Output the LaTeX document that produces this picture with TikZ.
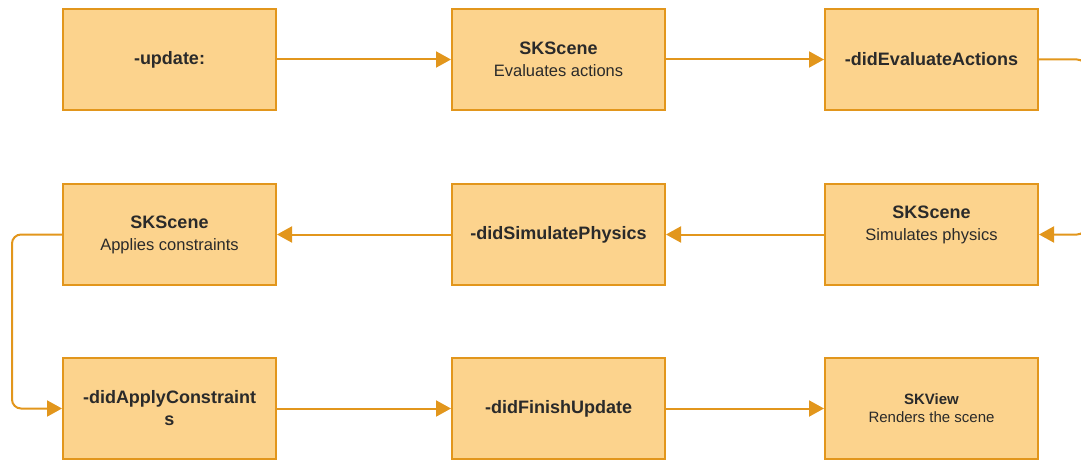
\documentclass[tikz,border=0pt]{standalone}
\usepackage{fontspec}
\setmainfont{Liberation Sans}
\usetikzlibrary{arrows.meta, positioning}
\definecolor{sfill}{HTML}{FCD38D}
\definecolor{sline}{HTML}{E2961C}
\definecolor{stext}{HTML}{2A2A2A}
\newcommand{\stagename}[1]{{\fontsize{18pt}{22pt}\selectfont\bfseries #1}}

\begin{document}
\begin{tikzpicture}[x=1pt, y=-1pt,
  stage/.style={draw=sline, fill=sfill, line width=2pt, minimum width=213pt,
    minimum height=101pt, inner sep=2pt, align=center, text=stext,
    font=\fontsize{16.5pt}{22pt}\selectfont},
  flow/.style={draw=sline, line width=2pt, -{Triangle[length=15pt, width=16pt]}},
  loopback/.style={rounded corners=9pt}]
\useasboundingbox (0,0) rectangle (1081,460);
\clip (0,0) rectangle (1081,460);
% top row
\node[stage] (update) at (169.5,59.5) {\stagename{-update:}};
\node[stage] (evaluate) at (558.5,59.5) {\stagename{SKScene}\\Evaluates actions};
\node[stage] (didevaluate) at (931.5,59.5) {\stagename{-didEvaluateActions}};
% middle row
\node[stage] (simulate) at (931.5,234.5) {};
\node[align=center, text=stext, font=\fontsize{16.5pt}{22pt}\selectfont]
  (simulatetext) at ([yshift=10pt]simulate.center) {\stagename{SKScene}\\Simulates physics};
\node[stage] (didsimulate) at (558.5,234.5) {\stagename{-didSimulatePhysics}};
\node[stage] (constraints) at (169.5,234.5) {\stagename{SKScene}\\Applies constraints};
% bottom row
\node[stage] (didapply) at (169.5,408.5) {\stagename{-didApplyConstraint}\\\stagename{s}};
\node[stage] (didfinish) at (558.5,408.5) {\stagename{-didFinishUpdate}};
\node[stage, font=\fontsize{15pt}{18pt}\selectfont] (skview) at (931.5,408.5)
  {\textbf{SKView}\\Renders the scene};
% connectors
\draw[flow] (update) -- (evaluate);
\draw[flow] (evaluate) -- (didevaluate);
\draw[flow, loopback] (didevaluate.east) -- (1086,59.5) -- (1086,234.5) -- (simulate.east);
\draw[flow] (simulate) -- (didsimulate);
\draw[flow] (didsimulate) -- (constraints);
\draw[flow, loopback] (constraints.west) -- (12,234.5) -- (12,408.5) -- (didapply.west);
\draw[flow] (didapply) -- (didfinish);
\draw[flow] (didfinish) -- (skview);
\end{tikzpicture}
\end{document}
